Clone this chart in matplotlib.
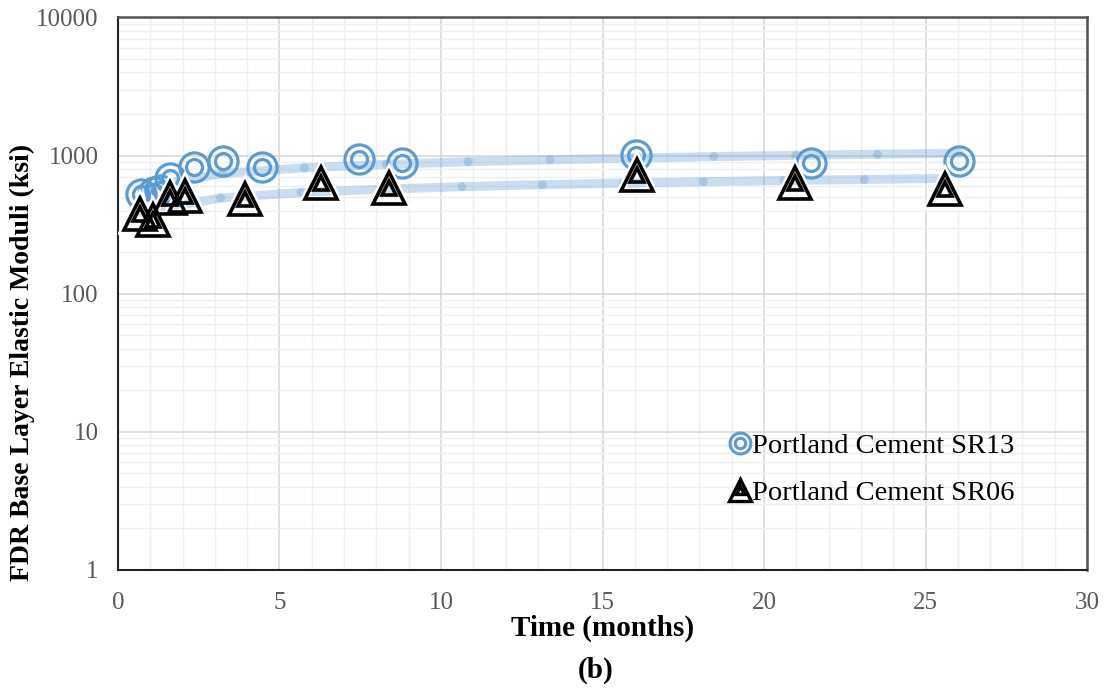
import numpy as np
import matplotlib.pyplot as plt
from matplotlib.collections import LineCollection

# data
t_sr13 = [0.7, 1.1, 1.3, 1.6, 2.35, 3.25, 4.45, 7.45, 8.8, 16.05, 21.45, 26.05]
e_sr13 = [530, 545, 560, 690, 820, 915, 830, 945, 885, 1010, 880, 910]
t_sr06 = [0.68, 1.08, 1.61, 2.07, 3.93, 6.3, 8.4, 16.07, 20.96, 25.6]
e_sr06 = [378, 342, 493, 510, 486, 634, 583, 726, 628, 574]

x_ticks = [0, 5, 10, 15, 20, 25, 30]
y_ticks = [1, 10, 100, 1000, 10000]

blue = '#5b9bd5'
serif = ['Liberation Serif', 'DejaVu Serif']

fig = plt.figure(figsize=(11.1, 6.98), dpi=100)
ax = fig.add_axes([0.1063, 0.1834, 0.8730, 0.7916])
ax.set_yscale('log')
ax.set_xlim(0, 30)
ax.set_ylim(1, 10000)


def trend(ax, t, e, nseg=10):
    # power trendline (like excel), drawn as overlapping segments
    b, a = np.polyfit(np.log(t), np.log(e), 1)
    xs = np.linspace(min(t), max(t), nseg + 1)
    ys = np.exp(a) * xs ** b
    pts = np.column_stack([xs, ys])
    segs = [pts[i:i + 2] for i in range(nseg)]
    lc = LineCollection(segs, colors=blue, linewidths=6.5, alpha=0.32,
                        capstyle='round', zorder=2)
    ax.add_collection(lc)


trend(ax, t_sr13, e_sr13)
trend(ax, t_sr06, e_sr06)

# double circle markers
ax.plot(t_sr13, e_sr13, 'o', ms=21, mfc='none', mec=blue, mew=2.3, zorder=3)
ax.plot(t_sr13, e_sr13, 'o', ms=11.5, mfc='none', mec=blue, mew=2.3, zorder=3)
# double triangle markers
tri = dict(mfc='none', linestyle='none', zorder=4)
ax.plot(t_sr06, e_sr06, '^', ms=24, mec='white', mew=5.5, **tri)
for ms in (23, 10):
    ax.plot(t_sr06, e_sr06, '^', ms=ms, mec='black', mew=2.6, **tri)

# legend made by hand-drawn proxies
h1a, = ax.plot([], [], 'o', ms=15, mfc='none', mec=blue, mew=2.2)
h1b, = ax.plot([], [], 'o', ms=7.5, mfc='none', mec=blue, mew=2.2)
h2a, = ax.plot([], [], '^', ms=16, mfc='none', mec='black', mew=2.4)
h2b, = ax.plot([], [], '^', ms=6, mfc='none', mec='black', mew=2.4)
ax.legend([(h1a, h1b), (h2a, h2b)],
          ['Portland Cement SR13', 'Portland Cement SR06'],
          loc='lower right', bbox_to_anchor=(0.952, 0.07), frameon=False,
          prop={'family': serif, 'size': 20.5}, handlelength=0.8,
          handletextpad=0.05, labelspacing=0.72)

# grid
ax.set_xticks(x_ticks)
ax.set_xticks(np.arange(0, 31, 1), minor=True)
ax.set_yticks(y_ticks)
ax.grid(True, which='major', color='#d9d9d9', lw=1.2, zorder=0)
ax.grid(True, which='minor', color='#efefef', lw=1.0, zorder=0)
ax.set_axisbelow(True)

for side in ['left', 'bottom']:
    ax.spines[side].set_color('#222222')
    ax.spines[side].set_linewidth(1.5)
for side in ['top', 'right']:
    ax.spines[side].set_color('#555555')
    ax.spines[side].set_linewidth(1.8)

ax.tick_params(which='both', length=0)
ax.tick_params(axis='x', pad=16)
ax.tick_params(axis='y', pad=14)
ax.set_yticklabels([str(v) for v in y_ticks])
for lbl in ax.get_xticklabels() + ax.get_yticklabels():
    lbl.set_fontfamily(serif)
    lbl.set_fontsize(18)
    lbl.set_color('#595959')

ax.set_xlabel('Time (months)', fontfamily=serif, fontsize=21,
              fontweight='bold', labelpad=0)
fig.text(0.02, 0.481, 'FDR Base Layer Elastic Moduli (ksi)', rotation=90,
         ha='center', va='center', family=serif, fontsize=20,
         fontweight='bold')
fig.text(0.537, 0.04, '(b)', ha='center', va='center', family=serif,
         fontsize=21, fontweight='bold')

fig.savefig('out.png', dpi=100)
